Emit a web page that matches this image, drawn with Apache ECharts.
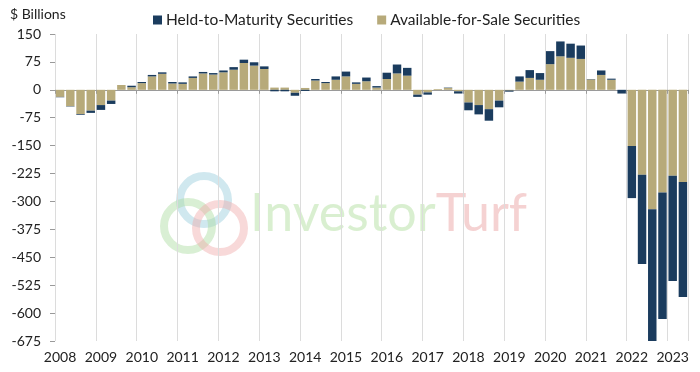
<!DOCTYPE html>
<html>
<head>
<meta charset="utf-8">
<script src="https://cdn.jsdelivr.net/npm/echarts@6/dist/echarts.min.js"></script>
<style>
html,body{margin:0;padding:0;background:#fff;}
#chart{width:700px;height:372px;}
</style>
</head>
<body>
<div id="chart"></div>
<script>
// Quarters 2008 Q1 .. 2023 Q2
const years = ['2008','2009','2010','2011','2012','2013','2014','2015','2016','2017','2018','2019','2020','2021','2022','2023'];
const quarters = [];
years.forEach(function(y){ ['Q1','Q2','Q3','Q4'].forEach(function(q){ quarters.push(y + ' ' + q); }); });
const categories = quarters.slice(0, 62);

// Available-for-Sale Securities ($ Billions)
const afsValues = [
  -19, -44, -65, -56,
  -41, -29, 13, 7,
  18, 36, 43, 17,
  16, 32, 44, 41,
  47, 54, 72, 65,
  56, 6, 6, -8,
  5, 25, 18, 27,
  36, 16, 23, 6,
  29, 44, 38, -13,
  -7, 2, 5, -4,
  -34, -41, -52, -29,
  -2, 22, 32, 27,
  69, 90, 86, 83,
  28, 40, 27, 0,
  -151, -228, -321, -276,
  -231, -248
];
// Held-to-Maturity Securities ($ Billions)
const htmValues = [
  -1, -1, -2, -6,
  -13, -9, 0, 4,
  3, 4, 4, 4,
  4, 4, 4, 4,
  5, 7, 9, 9,
  7, -4, -4, -8,
  -3, 4, 3, 9,
  13, 4, 10, 4,
  17, 24, 21, -6,
  -6, 0, 1, -6,
  -21, -25, -31, -18,
  -3, 14, 21, 18,
  35, 40, 38, 36,
  1, 12, 3, -10,
  -140, -240, -354, -340,
  -283, -309
];

const yMin = -675, yMax = 150, yStep = 75;
const seriesNames = ['Held-to-Maturity Securities', 'Available-for-Sale Securities'];
const NAVY = '#1b3c5e', TAN = '#b7aa7a';
const FONT = 'Lato';

const chart = echarts.init(document.getElementById('chart'), null, {renderer: 'canvas'});

chart.setOption({
  animation: false,
  textStyle: {fontFamily: FONT},
  grid: {left: 55, right: 12, top: 34, bottom: 31},
  legend: {
    data: seriesNames,
    left: 148, top: 7,
    itemWidth: 9, itemHeight: 9, itemGap: 24,
    icon: 'rect',
    textStyle: {fontFamily: FONT, fontSize: 15.5, color: '#222', padding: [0,0,0,-1]}
  },
  graphic: [
    {type: 'text', left: 10, top: 7, style: {text: '$ Billions', font: '14px ' + FONT, fill: '#222'}},
    {type: 'group', left: 160, top: 172, z: -1, children: [
      {type: 'circle', shape: {cx: 44, cy: 30, r: 24}, style: {fill: 'none', stroke: 'rgba(150,205,220,0.45)', lineWidth: 8}},
      {type: 'circle', shape: {cx: 28, cy: 56, r: 24}, style: {fill: 'none', stroke: 'rgba(170,220,160,0.45)', lineWidth: 8}},
      {type: 'circle', shape: {cx: 60, cy: 58, r: 24}, style: {fill: 'none', stroke: 'rgba(240,170,170,0.45)', lineWidth: 8}}
    ]},
    {type: 'text', left: 250, top: 188, z: -1, style: {
      text: '{a|Investor}{b|Turf}',
      rich: {
        a: {fontFamily: FONT, fontSize: 52, fill: 'rgba(185,225,170,0.55)', color: 'rgba(185,225,170,0.55)'},
        b: {fontFamily: FONT, fontSize: 52, fill: 'rgba(238,180,180,0.6)', color: 'rgba(238,180,180,0.6)'}
      }
    }}
  ],
  xAxis: [
    {
      type: 'category', data: categories, position: 'bottom',
      axisLine: {show: false, onZero: false},
      axisTick: {show: false},
      axisLabel: {interval: 3, margin: 9, fontSize: 14, color: '#222', fontFamily: FONT,
        formatter: function(v){ return v.slice(0,4); }},
      splitLine: {show: true, interval: 3, lineStyle: {color: '#dcdcdc', width: 1}}
    },
    {
      type: 'category', data: categories, position: 'bottom',
      axisLine: {show: true, onZero: true, lineStyle: {color: '#9a9a9a', width: 1}},
      axisTick: {show: true, interval: 3, length: 4, lineStyle: {color: '#9a9a9a'}},
      axisLabel: {show: false},
      splitLine: {show: false}
    }
  ],
  yAxis: {
    type: 'value', min: yMin, max: yMax, interval: yStep,
    axisLine: {show: false},
    axisTick: {show: true, length: 5, lineStyle: {color: '#9a9a9a'}},
    axisLabel: {margin: 14, fontSize: 14, color: '#222', fontFamily: FONT},
    splitLine: {show: false}
  },
  series: [
    {name: seriesNames[1], type: 'bar', stack: 'total', data: afsValues,
      itemStyle: {color: TAN}, barCategoryGap: '17%'},
    {name: seriesNames[0], type: 'bar', stack: 'total', data: htmValues,
      itemStyle: {color: NAVY}, barCategoryGap: '17%'}
  ]
});
</script>
</body>
</html>
